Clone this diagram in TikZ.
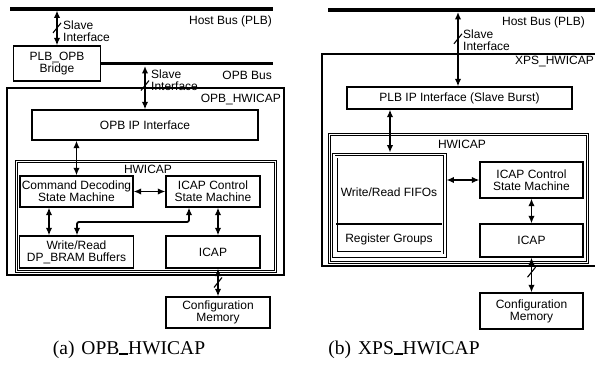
\documentclass[tikz,border=0pt]{standalone}
\usepackage{fontspec}
\setmainfont{Liberation Sans}
\newfontfamily\capfont{Liberation Serif}
\usetikzlibrary{arrows.meta}
\newcommand\capus{\rule[0pt]{0.45em}{1.7pt}}
\begin{document}
\begin{tikzpicture}[x=1pt,y=-1pt,
  txt/.style={font=\fontsize{12}{12}\selectfont, inner sep=0pt, align=center},
  box/.style={draw, line width=1.3pt, txt},
  bidir/.style={{Latex[length=7.5pt,width=6.5pt]}-{Latex[length=7.5pt,width=6.5pt]}, line width=1.8pt},
  bus/.style={line width=3.8pt},
  slashmark/.style={line width=1.1pt},
  dbl/.style={line width=0.9pt, double, double distance=1.4pt},
  captext/.style={font=\capfont\fontsize{19.5}{21}\selectfont, inner sep=0pt}
]
\useasboundingbox (0,0) rectangle (595,371);

% ---------------- (a) OPB_HWICAP ----------------
\draw[bus] (10,9) -- (273,9);
\node[txt, anchor=east] (hostL) at (272,21) {Host Bus (PLB)};
\coordinate (hbL) at (57,10.5);
\node[box, minimum width=87pt, minimum height=35pt] (bridge) at (57,63.5) {PLB\_OPB\\Bridge};
\draw[bidir] (hbL) -- coordinate[pos=0.5] (sl1) (bridge.north);
\draw[slashmark] ([shift={(-4pt,-5pt)}]sl1) -- ([shift={(4pt,5pt)}]sl1);
\node[txt, anchor=west, align=left] (slabA) at (63,31) {Slave\\Interface};

\coordinate (opbend) at (273,63.5);
\draw[bus] (bridge.east) -- (opbend);
\node[txt, anchor=east] (opblbl) at (272,75) {OPB Bus};

\draw[line width=1.3pt] (7,88) rectangle (284,275);
\node[txt, anchor=east] (titleA) at (281,100) {OPB\_HWICAP};

\coordinate (obL) at (145,66);
\node[box, minimum width=226pt, minimum height=30pt] (opbip) at (145,125) {OPB IP Interface};
\draw[bidir] (obL) -- coordinate[pos=0.45] (sl2) (opbip.north);
\draw[slashmark] ([shift={(-4pt,-5pt)}]sl2) -- ([shift={(4pt,5pt)}]sl2);
\node[txt, anchor=west, align=left] (slabB) at (151,80.5) {Slave\\Interface};

\draw[dbl] (16.5,161.5) rectangle (275.5,271.5);
\node[txt] (hwA) at (148,169) {HWICAP};

\node[box, minimum width=113pt, minimum height=31pt] (cmd) at (76.5,191.5) {Command Decoding\\State Machine};
\node[box, minimum width=94pt, minimum height=31pt] (ctrlL) at (213,191.5) {ICAP Control\\State Machine};
\node[box, minimum width=114pt, minimum height=32pt] (bram) at (76.5,252) {Write/Read\\DP\_BRAM Buffers};
\node[box, minimum width=94pt, minimum height=32pt] (icapL) at (213,252) {ICAP};
\node[box, minimum width=104pt, minimum height=31pt] (cfgL) at (218,312.5) {Configuration\\Memory};

\draw[bidir] (cmd.north |- opbip.south) -- (cmd.north);
\draw[bidir] (cmd.east) -- (ctrlL.west);
\coordinate (xb) at (49,0);
\draw[bidir] (cmd.south -| xb) -- (bram.north -| xb);
\coordinate (ebR) at (189,222);
\coordinate (ebL) at (77,222);
\draw[bidir, rounded corners=2pt] (ctrlL.south -| ebR) -- (ebR) -- (ebL) -- (bram.north -| ebL);
\draw[bidir] (ctrlL.south -| cfgL.north) -- (icapL.north -| cfgL.north);
\draw[bidir] (icapL.south -| cfgL.north) -- coordinate[pos=0.5] (sl3) (cfgL.north);
\draw[slashmark] ([shift={(-4pt,-5pt)}]sl3) -- ([shift={(4pt,5pt)}]sl3);

\node[captext] (capA) at (129,350) {(a)\hspace{7pt}OPB\capus HWICAP};

% ---------------- (b) XPS_HWICAP ----------------
\draw[bus] (328,10) -- (597,10);
\node[txt, anchor=east] (hostR) at (585,22) {Host Bus (PLB)};
\coordinate (hbR) at (458,12);
\node[box, minimum width=225pt, minimum height=22pt] (plbip) at (459.5,98) {PLB IP Interface (Slave Burst)};
\draw[bidir] (hbR) -- coordinate[pos=0.36] (sl4) (hbR |- plbip.north);
\draw[slashmark] ([shift={(-4pt,-5pt)}]sl4) -- ([shift={(4pt,5pt)}]sl4);
\node[txt, anchor=west, align=left] (slabC) at (463,40.5) {Slave\\Interface};

\draw[line width=1.3pt] (598,54) -- (322,54) -- (322,266) -- (598,266);
\node[txt, anchor=east] (titleB) at (594,62) {XPS\_HWICAP};

\draw[dbl] (329.5,134.5) rectangle (587.5,262.5);
\node[txt] (hwB) at (462,144) {HWICAP};

\node[draw, line width=0.9pt, minimum width=114pt, minimum height=104pt, inner sep=0pt] (fifo) at (389,205) {};
\draw[line width=0.9pt, double, double distance=1.2pt] (336,157) rectangle (442,253);
\draw[line width=1.3pt] (336,224) -- (442,224);
\node[txt] (fifotxt) at (389,192) {Write/Read FIFOs};
\node[txt] (reggrp) at (389,239) {Register Groups};

\node[box, minimum width=103pt, minimum height=36pt] (ctrlR) at (531.5,180) {ICAP Control\\State Machine};
\node[box, minimum width=103pt, minimum height=33pt] (icapR) at (531.5,240.5) {ICAP};
\node[box, minimum width=103pt, minimum height=36pt] (cfgR) at (531.5,311) {Configuration\\Memory};

\coordinate (xf) at (390,0);
\draw[bidir] (plbip.south -| xf) -- (fifo.north -| xf);
\draw[bidir] (fifo.east |- ctrlR.west) -- (ctrlR.west);
\draw[bidir] (ctrlR.south) -- (icapR.north);
\draw[bidir] (icapR.south) -- coordinate[pos=0.42] (sl5) (cfgR.north);
\draw[slashmark] ([shift={(-4pt,-5pt)}]sl5) -- ([shift={(4pt,5pt)}]sl5);

\node[captext] (capB) at (404,350) {(b)\hspace{7pt}XPS\capus HWICAP};
\end{tikzpicture}
\end{document}
